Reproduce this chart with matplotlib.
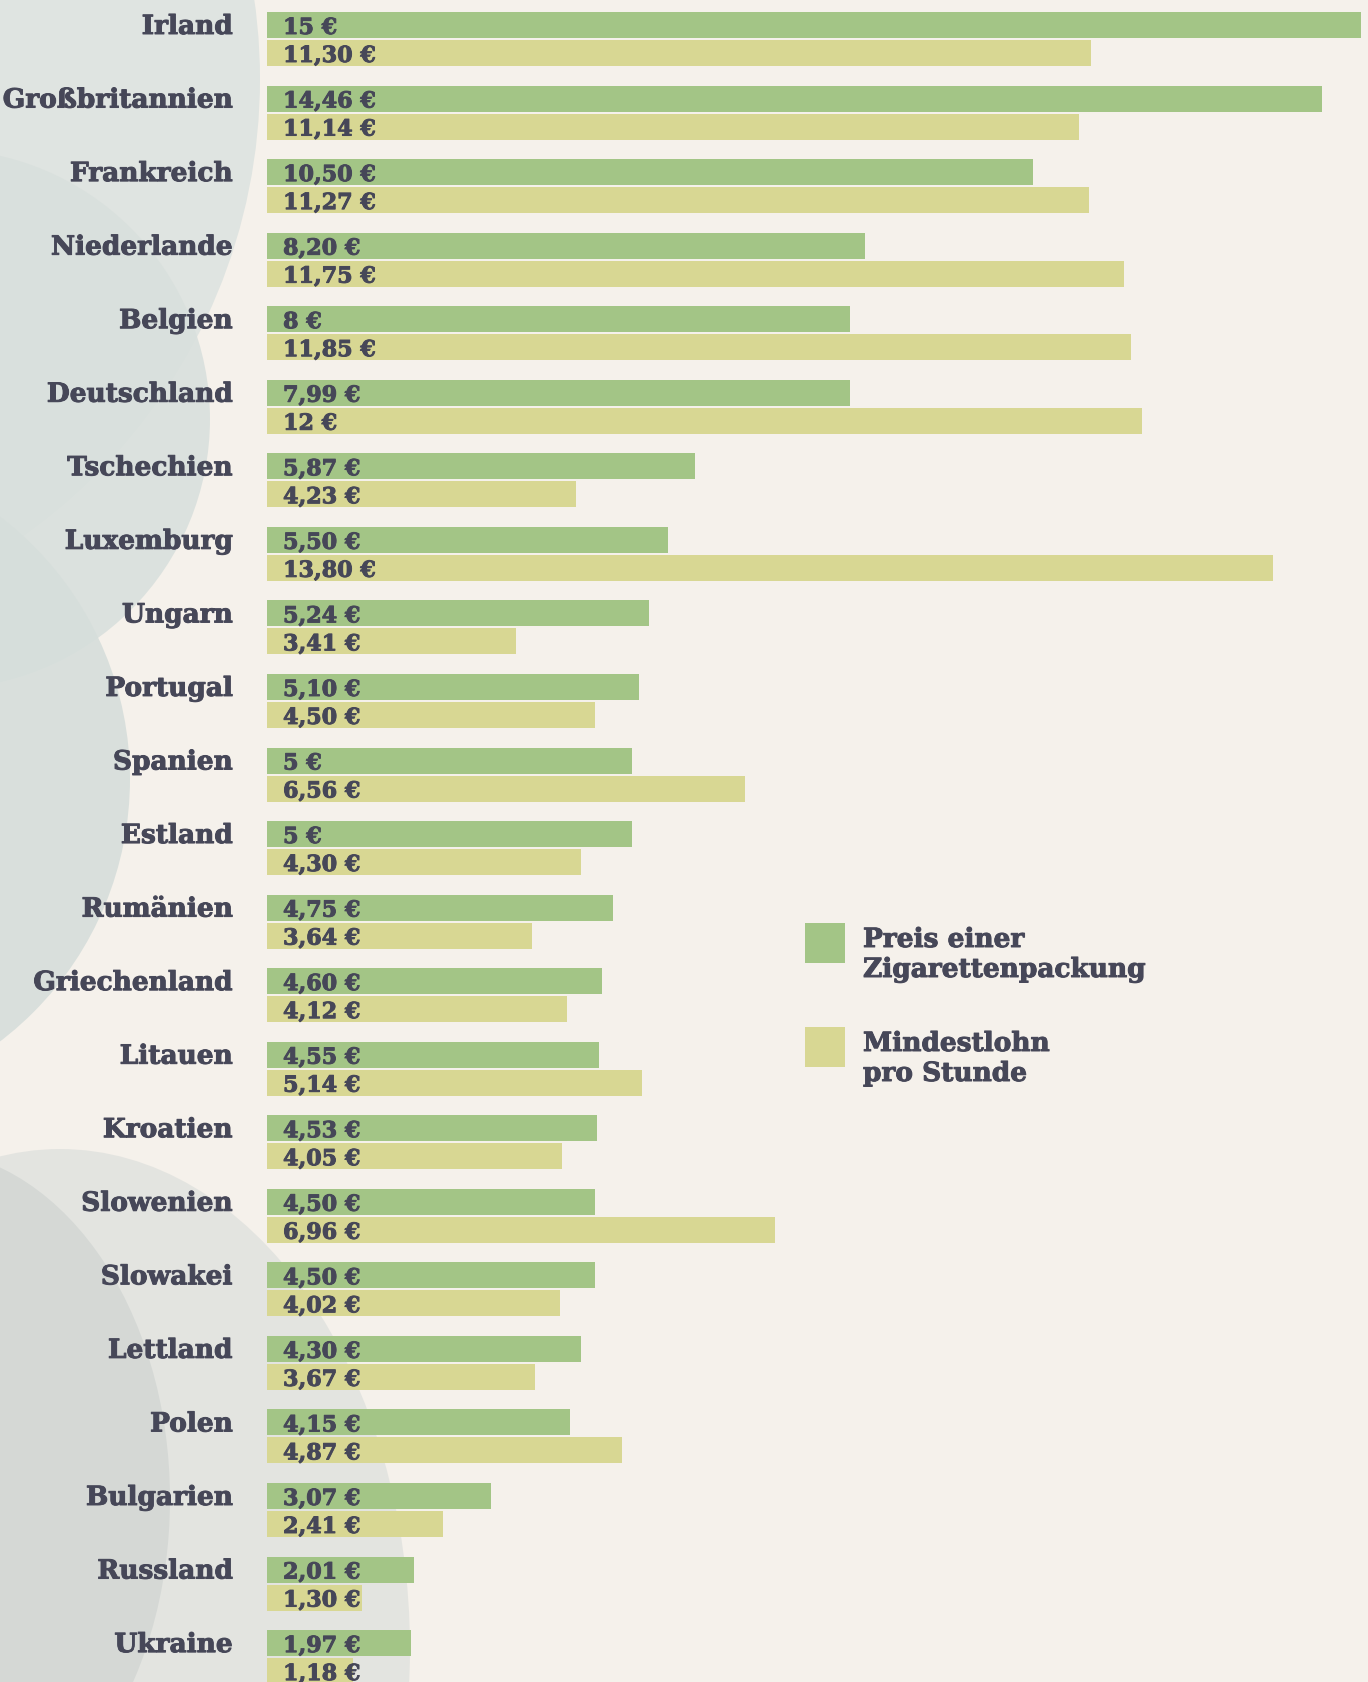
import matplotlib
matplotlib.use("Agg")
import matplotlib.pyplot as plt
import matplotlib.patheffects as pe
from matplotlib.patches import Ellipse, Rectangle

# data
countries = ["Irland", "Großbritannien", "Frankreich", "Niederlande", "Belgien",
             "Deutschland", "Tschechien", "Luxemburg", "Ungarn", "Portugal",
             "Spanien", "Estland", "Rumänien", "Griechenland", "Litauen",
             "Kroatien", "Slowenien", "Slowakei", "Lettland", "Polen",
             "Bulgarien", "Russland", "Ukraine"]
zigaretten = [15, 14.46, 10.50, 8.20, 8, 7.99, 5.87, 5.50, 5.24, 5.10,
              5, 5, 4.75, 4.60, 4.55, 4.53, 4.50, 4.50, 4.30, 4.15,
              3.07, 2.01, 1.97]
mindestlohn = [11.30, 11.14, 11.27, 11.75, 11.85, 12, 4.23, 13.80, 3.41, 4.50,
               6.56, 4.30, 3.64, 4.12, 5.14, 4.05, 6.96, 4.02, 3.67, 4.87,
               2.41, 1.30, 1.18]
legend_labels = ["Preis einer\nZigarettenpackung", "Mindestlohn\npro Stunde"]

GREEN = "#a3c586"
YELLOW = "#d8d793"
TEXT = "#464758"
BG = "#f5f1eb"
FONT = "DejaVu Serif"

W, H = 1368, 1683

# slightly heavier text, the original uses a very bold slab serif
heavy = [pe.withStroke(linewidth=0.7, foreground=TEXT)]


def fmt(v):
    if float(v).is_integer():
        return f"{int(v)} €"
    return f"{v:.2f} €".replace(".", ",")


fig = plt.figure(figsize=(W / 100, H / 100), dpi=100, facecolor=BG)

# soft background blobs on the left (pixel coords -> inches)
def blob(cx, cy, w, h, color, alpha):
    e = Ellipse((cx / 100, (H - cy) / 100), w / 100, h / 100,
                transform=fig.dpi_scale_trans, facecolor=color,
                edgecolor="none", alpha=alpha, zorder=0)
    fig.add_artist(e)

blob(-300, 80, 1120, 1120, "#dde3e0", 0.9)
blob(-60, 420, 540, 540, "#d9e0dd", 0.9)
blob(-200, 780, 660, 660, "#d6dedb", 0.9)
blob(60, 1650, 700, 1000, "#d3d8d6", 0.5)
blob(-80, 1500, 500, 700, "#c4cac9", 0.45)

# axes: x from 0..15 spans pixel 267..1361
step = 73.55
top = -26 / step
bottom = (H - 26) / step
ax = fig.add_axes([267 / W, 0, 1094 / W, 1])
ax.set_xlim(0, 15)
ax.set_ylim(bottom, top)
ax.axis("off")
ax.patch.set_alpha(0)

bh = 26 / step
off = 28 / step
ys = list(range(len(countries)))

ax.barh(ys, zigaretten, height=bh, color=GREEN, zorder=2)
ax.barh([y + off for y in ys], mindestlohn, height=bh, color=YELLOW, zorder=2)

base = 9 / step
for i, c in enumerate(countries):
    ax.text(-0.47, i + base, c, ha="right", va="baseline", fontsize=19,
            fontweight="bold", family=FONT, color=TEXT, path_effects=heavy)
    ax.text(0.22, i + base, fmt(zigaretten[i]), ha="left", va="baseline",
            fontsize=16, fontweight="bold", family=FONT, color=TEXT, zorder=3,
            path_effects=heavy)
    ax.text(0.22, i + off + base, fmt(mindestlohn[i]), ha="left", va="baseline",
            fontsize=16, fontweight="bold", family=FONT, color=TEXT, zorder=3,
            path_effects=heavy)

# legend (figure pixel positions)
for (sy, color, lab) in [(924, GREEN, legend_labels[0]), (1028, YELLOW, legend_labels[1])]:
    fig.add_artist(Rectangle((805 / W, 1 - (sy + 40) / H), 40 / W, 40 / H,
                             transform=fig.transFigure, facecolor=color,
                             edgecolor="none"))
    fig.text(863 / W, 1 - (sy + 4) / H, lab, ha="left", va="top", fontsize=19,
             fontweight="bold", family=FONT, color=TEXT, linespacing=1.25,
             path_effects=heavy)

fig.savefig("out.png", dpi=100, facecolor=BG)
